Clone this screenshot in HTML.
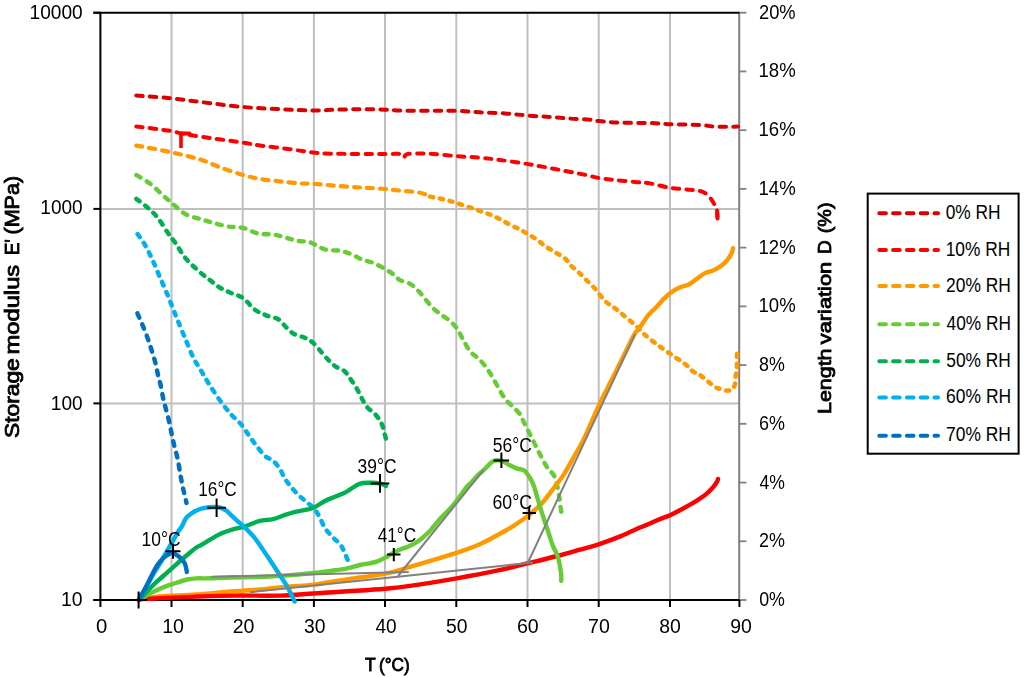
<!DOCTYPE html><html><head><meta charset="utf-8"><style>html,body{margin:0;padding:0;background:#fff;}</style></head><body><svg width="1024" height="677" viewBox="0 0 1024 677" style="display:block;font-family:'Liberation Sans', sans-serif">
<rect width="1024" height="677" fill="#fff"/>
<line x1="171.5" y1="12.7" x2="171.5" y2="600" stroke="#BFBFBF" stroke-width="2"/>
<line x1="242.7" y1="12.7" x2="242.7" y2="600" stroke="#BFBFBF" stroke-width="2"/>
<line x1="313.9" y1="12.7" x2="313.9" y2="600" stroke="#BFBFBF" stroke-width="2"/>
<line x1="385.0" y1="12.7" x2="385.0" y2="600" stroke="#BFBFBF" stroke-width="2"/>
<line x1="456.3" y1="12.7" x2="456.3" y2="600" stroke="#BFBFBF" stroke-width="2"/>
<line x1="527.5" y1="12.7" x2="527.5" y2="600" stroke="#BFBFBF" stroke-width="2"/>
<line x1="598.7" y1="12.7" x2="598.7" y2="600" stroke="#BFBFBF" stroke-width="2"/>
<line x1="670.0" y1="12.7" x2="670.0" y2="600" stroke="#BFBFBF" stroke-width="2"/>
<line x1="100.4" y1="208.9" x2="739.4" y2="208.9" stroke="#BFBFBF" stroke-width="2"/>
<line x1="100.4" y1="403.4" x2="739.4" y2="403.4" stroke="#BFBFBF" stroke-width="2"/>
<line x1="739.2" y1="11.7" x2="739.2" y2="600" stroke="#808080" stroke-width="2"/>
<line x1="739.4" y1="600.00" x2="746.4" y2="600.00" stroke="#808080" stroke-width="1.8"/>
<line x1="739.4" y1="541.27" x2="746.4" y2="541.27" stroke="#808080" stroke-width="1.8"/>
<line x1="739.4" y1="482.54" x2="746.4" y2="482.54" stroke="#808080" stroke-width="1.8"/>
<line x1="739.4" y1="423.81" x2="746.4" y2="423.81" stroke="#808080" stroke-width="1.8"/>
<line x1="739.4" y1="365.08" x2="746.4" y2="365.08" stroke="#808080" stroke-width="1.8"/>
<line x1="739.4" y1="306.35" x2="746.4" y2="306.35" stroke="#808080" stroke-width="1.8"/>
<line x1="739.4" y1="247.62" x2="746.4" y2="247.62" stroke="#808080" stroke-width="1.8"/>
<line x1="739.4" y1="188.89" x2="746.4" y2="188.89" stroke="#808080" stroke-width="1.8"/>
<line x1="739.4" y1="130.16" x2="746.4" y2="130.16" stroke="#808080" stroke-width="1.8"/>
<line x1="739.4" y1="71.43" x2="746.4" y2="71.43" stroke="#808080" stroke-width="1.8"/>
<line x1="739.4" y1="12.70" x2="746.4" y2="12.70" stroke="#808080" stroke-width="1.8"/>
<line x1="93.4" y1="12.7" x2="739.4" y2="12.7" stroke="#000" stroke-width="2"/>
<line x1="100.4" y1="12.7" x2="100.4" y2="601" stroke="#000" stroke-width="2"/>
<line x1="93.4" y1="600" x2="739.4" y2="600" stroke="#000" stroke-width="2"/>
<line x1="93.4" y1="12.7" x2="100.4" y2="12.7" stroke="#000" stroke-width="2"/>
<line x1="93.4" y1="208.9" x2="100.4" y2="208.9" stroke="#000" stroke-width="2"/>
<line x1="93.4" y1="403.4" x2="100.4" y2="403.4" stroke="#000" stroke-width="2"/>
<line x1="93.4" y1="600" x2="100.4" y2="600" stroke="#000" stroke-width="2"/>
<line x1="100.4" y1="600" x2="100.4" y2="607" stroke="#000" stroke-width="2"/>
<line x1="171.5" y1="600" x2="171.5" y2="607" stroke="#000" stroke-width="2"/>
<line x1="242.7" y1="600" x2="242.7" y2="607" stroke="#000" stroke-width="2"/>
<line x1="313.9" y1="600" x2="313.9" y2="607" stroke="#000" stroke-width="2"/>
<line x1="385.0" y1="600" x2="385.0" y2="607" stroke="#000" stroke-width="2"/>
<line x1="456.3" y1="600" x2="456.3" y2="607" stroke="#000" stroke-width="2"/>
<line x1="527.5" y1="600" x2="527.5" y2="607" stroke="#000" stroke-width="2"/>
<line x1="598.7" y1="600" x2="598.7" y2="607" stroke="#000" stroke-width="2"/>
<line x1="670.0" y1="600" x2="670.0" y2="607" stroke="#000" stroke-width="2"/>
<line x1="739.4" y1="600" x2="739.4" y2="607" stroke="#000" stroke-width="2"/>
<path d="M136.30,95.50C142.08,95.97 160.38,97.23 171.00,98.30C181.62,99.37 188.17,100.47 200.00,101.90C211.83,103.33 228.67,105.68 242.00,106.90C255.33,108.12 268.17,108.60 280.00,109.20C291.83,109.80 303.83,110.42 313.00,110.50C322.17,110.58 327.17,109.92 335.00,109.70C342.83,109.48 351.67,109.20 360.00,109.20C368.33,109.20 378.33,109.48 385.00,109.70C391.67,109.92 392.50,110.32 400.00,110.50C407.50,110.68 420.67,110.75 430.00,110.80C439.33,110.85 447.67,110.55 456.00,110.80C464.33,111.05 471.83,111.87 480.00,112.30C488.17,112.73 497.17,112.87 505.00,113.40C512.83,113.93 519.50,114.90 527.00,115.50C534.50,116.10 542.83,116.48 550.00,117.00C557.17,117.52 563.33,118.15 570.00,118.60C576.67,119.05 585.17,119.28 590.00,119.70C594.83,120.12 594.00,120.60 599.00,121.10C604.00,121.60 611.50,122.38 620.00,122.70C628.50,123.02 641.67,122.75 650.00,123.00C658.33,123.25 661.67,123.87 670.00,124.20C678.33,124.53 692.50,124.60 700.00,125.00C707.50,125.40 708.67,126.33 715.00,126.60C721.33,126.87 734.17,126.60 738.00,126.60" fill="none" stroke="#DC0000" stroke-width="4.0" stroke-dasharray="6.4 7.2" stroke-linecap="round" stroke-linejoin="round"/>
<path d="M136.30,126.40C142.08,127.17 163.55,129.82 171.00,131.00C178.45,132.18 176.17,132.57 181.00,133.50C185.83,134.43 189.83,135.10 200.00,136.60C210.17,138.10 232.00,141.02 242.00,142.50C252.00,143.98 252.00,144.38 260.00,145.50C268.00,146.62 281.17,148.03 290.00,149.20C298.83,150.37 305.50,151.74 313.00,152.50C320.50,153.26 323.00,153.50 335.00,153.75C347.00,154.00 374.17,153.96 385.00,154.00C395.83,154.04 396.83,153.47 400.00,154.00C403.17,154.53 402.67,157.20 404.00,157.20C405.33,157.20 403.67,154.57 408.00,154.00C412.33,153.43 422.00,153.40 430.00,153.75C438.00,154.10 447.67,155.44 456.00,156.10C464.33,156.76 472.67,157.05 480.00,157.70C487.33,158.35 492.17,158.97 500.00,160.00C507.83,161.03 517.83,162.40 527.00,163.90C536.17,165.40 545.33,167.18 555.00,169.00C564.67,170.82 577.67,173.30 585.00,174.80C592.33,176.30 594.00,177.13 599.00,178.00C604.00,178.87 609.00,179.35 615.00,180.00C621.00,180.65 629.17,181.33 635.00,181.90C640.83,182.47 644.17,182.42 650.00,183.40C655.83,184.38 663.33,186.75 670.00,187.80C676.67,188.85 685.00,189.17 690.00,189.70C695.00,190.23 697.50,190.45 700.00,191.00C702.50,191.55 703.33,191.92 705.00,193.00C706.67,194.08 708.50,195.71 710.00,197.50C711.50,199.29 712.83,201.67 714.00,203.75C715.17,205.83 716.42,207.46 717.00,210.00C717.58,212.54 717.42,217.50 717.50,219.00" fill="none" stroke="#FF0000" stroke-width="4.0" stroke-dasharray="6.4 7.2" stroke-linecap="round" stroke-linejoin="round"/>
<path d="M136.30,145.60C142.08,146.70 160.38,149.88 171.00,152.20C181.62,154.52 191.83,156.98 200.00,159.50C208.17,162.02 213.00,164.77 220.00,167.30C227.00,169.83 235.33,172.75 242.00,174.70C248.67,176.65 253.67,177.88 260.00,179.00C266.33,180.12 273.33,180.67 280.00,181.40C286.67,182.13 294.50,183.01 300.00,183.40C305.50,183.79 306.33,183.30 313.00,183.75C319.67,184.20 332.17,185.47 340.00,186.10C347.83,186.72 355.00,187.18 360.00,187.50C365.00,187.82 365.83,187.75 370.00,188.00C374.17,188.25 380.00,188.57 385.00,189.00C390.00,189.43 394.17,189.98 400.00,190.60C405.83,191.22 415.00,191.70 420.00,192.70C425.00,193.70 428.33,195.95 430.00,196.60" fill="none" stroke="#FF9900" stroke-width="4.2" stroke-dasharray="6.0 7.1" stroke-linecap="round" stroke-linejoin="round"/>
<path d="M430.00,196.60C432.50,197.12 440.67,198.67 445.00,199.70C449.33,200.73 451.83,201.50 456.00,202.80C460.17,204.10 466.00,206.13 470.00,207.50C474.00,208.87 476.67,209.83 480.00,211.00C483.33,212.17 486.67,213.13 490.00,214.50C493.33,215.87 496.67,217.50 500.00,219.20C503.33,220.90 506.67,222.98 510.00,224.70C513.33,226.42 517.00,227.92 520.00,229.50C523.00,231.08 525.17,232.50 528.00,234.20C530.83,235.90 534.17,237.73 537.00,239.70C539.83,241.67 542.00,243.92 545.00,246.00C548.00,248.08 551.67,250.13 555.00,252.20C558.33,254.27 562.50,256.32 565.00,258.40C567.50,260.48 567.83,262.48 570.00,264.70C572.17,266.92 575.50,269.36 578.00,271.70C580.50,274.04 582.17,275.93 585.00,278.75C587.83,281.57 591.67,284.89 595.00,288.60C598.33,292.31 601.67,297.72 605.00,301.00C608.33,304.28 611.67,305.72 615.00,308.30C618.33,310.88 621.50,313.58 625.00,316.50C628.50,319.42 632.83,322.87 636.00,325.80C639.17,328.73 640.50,331.00 644.00,334.10C647.50,337.20 652.67,341.13 657.00,344.40C661.33,347.67 665.33,350.43 670.00,353.70C674.67,356.97 681.17,361.05 685.00,364.00C688.83,366.95 690.62,369.65 693.00,371.40C695.38,373.15 696.87,372.87 699.30,374.50C701.73,376.13 705.02,379.13 707.60,381.20C710.18,383.27 712.73,385.62 714.80,386.90C716.87,388.18 718.10,388.30 720.00,388.90C721.90,389.50 724.30,390.32 726.20,390.50C728.10,390.68 730.20,390.35 731.40,390.00C732.60,389.65 732.80,389.43 733.40,388.40C734.00,387.37 734.65,385.60 735.00,383.80C735.35,382.00 735.25,379.67 735.50,377.60C735.75,375.53 736.25,373.48 736.50,371.40C736.75,369.32 736.92,367.52 737.00,365.10C737.08,362.68 736.90,359.65 737.00,356.90C737.10,354.15 737.50,349.98 737.60,348.60" fill="none" stroke="#FF9900" stroke-width="4.5" stroke-dasharray="3.2 6.8" stroke-linecap="round" stroke-linejoin="round"/>
<path d="M136.40,175.10C138.70,176.55 145.82,180.47 150.20,183.80C154.58,187.13 158.93,191.75 162.70,195.10C166.47,198.45 169.03,200.75 172.80,203.90C176.57,207.05 180.70,211.48 185.30,214.00C189.90,216.52 195.80,217.55 200.40,219.00C205.00,220.45 208.30,221.45 212.90,222.70C217.50,223.95 222.98,225.63 228.00,226.50C233.02,227.37 237.93,226.72 243.00,227.90C248.07,229.08 253.27,232.48 258.40,233.60C263.53,234.72 269.32,233.95 273.80,234.60C278.28,235.25 281.47,236.48 285.30,237.50C289.13,238.52 292.95,239.97 296.80,240.70C300.65,241.43 305.52,241.32 308.40,241.90C311.28,242.48 311.23,242.92 314.10,244.20C316.97,245.48 321.12,248.48 325.60,249.60C330.08,250.72 336.52,250.05 341.00,250.90C345.48,251.75 348.98,253.27 352.50,254.70C356.02,256.13 358.57,258.12 362.10,259.50C365.63,260.88 369.85,261.38 373.70,263.00C377.55,264.62 382.00,267.37 385.20,269.20C388.40,271.03 390.43,272.18 392.90,274.00C395.37,275.82 397.13,278.47 400.00,280.10C402.87,281.73 407.17,282.13 410.10,283.80C413.03,285.47 415.10,287.58 417.60,290.10C420.10,292.62 422.58,295.97 425.10,298.90C427.62,301.83 430.18,305.18 432.70,307.70C435.22,310.22 437.48,311.92 440.20,314.00C442.92,316.08 446.28,317.90 449.00,320.20C451.72,322.50 454.20,324.67 456.50,327.80C458.80,330.93 460.50,335.03 462.80,339.00C465.10,342.97 467.58,348.25 470.30,351.60C473.02,354.95 476.38,356.38 479.10,359.10C481.82,361.82 484.30,364.77 486.60,367.90C488.90,371.03 490.80,374.35 492.90,377.90C495.00,381.45 497.12,385.63 499.20,389.20C501.28,392.77 503.10,396.37 505.40,399.30C507.70,402.23 510.57,404.30 513.00,406.80C515.43,409.30 518.37,412.10 520.00,414.30C521.63,416.50 520.97,416.32 522.80,420.00C524.63,423.68 528.27,430.93 531.00,436.40C533.73,441.87 536.47,447.57 539.20,452.80C541.93,458.03 544.90,463.93 547.40,467.80C549.90,471.67 552.38,472.13 554.20,476.00C556.02,479.87 557.17,485.32 558.30,491.00C559.43,496.68 560.45,506.23 561.00,510.10C561.55,513.97 561.50,513.52 561.60,514.20" fill="none" stroke="#66CC33" stroke-width="4.4" stroke-dasharray="4.8 7.2" stroke-linecap="round" stroke-linejoin="round"/>
<path d="M136.40,198.90C138.28,200.37 144.15,204.57 147.70,207.70C151.25,210.83 154.35,213.52 157.70,217.70C161.05,221.88 164.87,228.62 167.80,232.80C170.73,236.98 172.38,238.62 175.30,242.80C178.22,246.98 181.53,253.30 185.30,257.90C189.07,262.50 193.72,266.63 197.90,270.40C202.08,274.17 206.63,277.57 210.40,280.50C214.17,283.43 216.98,285.88 220.50,288.00C224.02,290.12 227.75,291.53 231.50,293.20C235.25,294.87 239.15,295.28 243.00,298.00C246.85,300.72 250.75,306.62 254.60,309.50C258.45,312.38 262.15,313.67 266.10,315.30C270.05,316.93 274.90,317.25 278.30,319.30C281.70,321.35 283.92,325.18 286.50,327.60C289.08,330.02 290.70,332.08 293.80,333.80C296.90,335.52 301.83,336.35 305.10,337.90C308.37,339.45 310.63,340.68 313.40,343.10C316.17,345.52 319.12,349.48 321.70,352.40C324.28,355.32 326.50,358.20 328.90,360.60C331.30,363.00 333.52,365.07 336.10,366.80C338.68,368.53 341.98,368.93 344.40,371.00C346.82,373.07 348.53,376.28 350.60,379.20C352.67,382.12 355.07,385.57 356.80,388.50C358.53,391.43 359.28,393.70 361.00,396.80C362.72,399.90 364.70,404.17 367.10,407.10C369.50,410.03 372.98,411.63 375.40,414.40C377.82,417.17 380.05,420.43 381.60,423.70C383.15,426.97 383.93,431.25 384.70,434.00C385.47,436.75 385.95,439.17 386.20,440.20" fill="none" stroke="#00B050" stroke-width="4.5" stroke-dasharray="4.0 7.0" stroke-linecap="round" stroke-linejoin="round"/>
<path d="M137.60,234.00C138.87,235.88 142.68,240.90 145.20,245.30C147.72,249.70 150.20,254.97 152.70,260.40C155.20,265.83 157.68,272.05 160.20,277.90C162.72,283.75 165.70,290.47 167.80,295.50C169.90,300.53 171.13,303.92 172.80,308.10C174.47,312.28 175.63,315.30 177.80,320.60C179.97,325.90 183.13,333.58 185.80,339.90C188.47,346.22 191.13,353.18 193.80,358.50C196.47,363.82 199.15,367.37 201.80,371.80C204.45,376.23 206.60,380.23 209.70,385.10C212.80,389.97 216.85,396.13 220.40,401.00C223.95,405.87 227.47,410.32 231.00,414.30C234.53,418.28 238.62,421.37 241.60,424.90C244.58,428.43 246.58,432.25 248.90,435.50C251.22,438.75 252.92,441.08 255.50,444.40C258.08,447.72 261.45,452.63 264.40,455.40C267.35,458.17 270.63,458.78 273.20,461.00C275.77,463.22 277.95,465.93 279.80,468.70C281.65,471.47 282.63,474.83 284.30,477.60C285.97,480.37 287.58,482.53 289.80,485.30C292.02,488.07 294.83,491.43 297.60,494.20C300.37,496.97 303.63,499.50 306.40,501.90C309.17,504.30 311.98,506.02 314.20,508.60C316.42,511.18 317.87,514.08 319.70,517.40C321.53,520.72 322.98,525.18 325.20,528.50C327.42,531.82 330.42,534.53 333.00,537.30C335.58,540.07 338.85,542.70 340.70,545.10C342.55,547.50 342.88,549.12 344.10,551.70C345.32,554.28 347.35,559.12 348.00,560.60" fill="none" stroke="#00B0F0" stroke-width="4.5" stroke-dasharray="3.8 7.0" stroke-linecap="round" stroke-linejoin="round"/>
<path d="M137.40,313.30C138.17,315.07 140.35,319.92 142.00,323.90C143.65,327.88 145.75,332.98 147.30,337.20C148.85,341.42 149.97,344.98 151.30,349.20C152.63,353.42 154.20,358.30 155.30,362.50C156.40,366.70 157.02,370.63 157.90,374.40C158.78,378.17 159.72,381.10 160.60,385.10C161.48,389.10 162.32,394.42 163.20,398.40C164.08,402.38 164.88,405.02 165.90,409.00C166.92,412.98 168.28,417.87 169.30,422.30C170.32,426.73 171.10,431.40 172.00,435.60C172.90,439.80 173.73,443.52 174.70,447.50C175.67,451.48 176.83,454.85 177.80,459.50C178.77,464.15 179.63,470.65 180.50,475.40C181.37,480.15 182.00,483.42 183.00,488.00C184.00,492.58 185.92,500.42 186.50,502.90" fill="none" stroke="#0070C0" stroke-width="4.5" stroke-dasharray="4.8 7.3" stroke-linecap="round" stroke-linejoin="round"/>
<line x1="717.2" y1="213" x2="717.5" y2="218.5" stroke="#FF0000" stroke-width="4.0" stroke-linecap="round"/>
<line x1="181" y1="134" x2="181" y2="148" stroke="#FF0000" stroke-width="3.6"/>
<line x1="180" y1="133.5" x2="189.5" y2="133.5" stroke="#FF0000" stroke-width="3.8" stroke-linecap="round"/>
<path d="M139.00,600.00C140.83,599.70 146.72,598.78 150.00,598.20C153.28,597.62 151.03,597.12 158.70,596.50C166.37,595.88 184.95,595.25 196.00,594.50C207.05,593.75 214.33,592.83 225.00,592.00C235.67,591.17 249.17,590.42 260.00,589.50C270.83,588.58 281.08,587.32 290.00,586.50C298.92,585.68 303.77,585.83 313.50,584.60C323.23,583.37 336.43,580.92 348.40,579.10C360.37,577.28 375.03,575.73 385.30,573.70C395.57,571.67 398.12,570.37 410.00,566.90C421.88,563.43 444.88,556.70 456.60,552.90C468.32,549.10 471.95,547.92 480.30,544.10C488.65,540.28 500.98,533.17 506.70,530.00C512.42,526.83 511.00,527.50 514.60,525.10C518.20,522.70 523.75,519.23 528.30,515.60C532.85,511.97 537.35,508.32 541.90,503.30C546.45,498.28 551.95,490.28 555.60,485.50C559.25,480.72 560.62,479.60 563.80,474.60C566.98,469.60 571.43,461.28 574.70,455.50C577.97,449.72 580.85,444.90 583.40,439.90C585.95,434.90 587.42,431.25 590.00,425.50C592.58,419.75 595.35,412.88 598.90,405.40C602.45,397.92 607.17,388.87 611.30,380.60C615.43,372.33 619.92,363.38 623.70,355.80C627.48,348.22 631.25,339.92 634.00,335.10C636.75,330.28 637.85,330.20 640.20,326.90C642.55,323.60 645.42,318.58 648.10,315.30C650.78,312.02 653.85,309.77 656.30,307.20C658.75,304.63 660.57,302.20 662.80,299.90C665.03,297.60 667.00,295.43 669.70,293.40C672.40,291.37 675.82,289.18 679.00,287.70C682.18,286.22 685.82,285.98 688.80,284.50C691.78,283.02 694.20,280.70 696.90,278.80C699.60,276.90 702.30,274.47 705.00,273.10C707.70,271.73 710.38,271.82 713.10,270.60C715.82,269.38 718.85,267.68 721.30,265.80C723.75,263.92 726.05,261.47 727.80,259.30C729.55,257.13 730.93,254.65 731.80,252.80C732.67,250.95 732.80,248.97 733.00,248.20" fill="none" stroke="#FF9900" stroke-width="4.4" stroke-linecap="round" stroke-linejoin="round"/>
<path d="M146.00,599.00C150.00,598.78 161.67,598.10 170.00,597.70C178.33,597.30 185.17,596.95 196.00,596.60C206.83,596.25 221.00,595.77 235.00,595.60C249.00,595.43 266.92,595.95 280.00,595.60C293.08,595.25 302.17,594.22 313.50,593.50C324.83,592.78 336.08,592.10 348.00,591.30C359.92,590.50 374.67,589.60 385.00,588.70C395.33,587.80 398.07,587.63 410.00,585.90C421.93,584.17 441.95,580.88 456.60,578.30C471.25,575.72 486.13,572.88 497.90,570.40C509.67,567.92 516.95,565.88 527.20,563.40C537.45,560.92 550.60,557.78 559.40,555.50C568.20,553.22 573.47,551.57 580.00,549.70C586.53,547.83 591.77,546.57 598.60,544.30C605.43,542.03 614.10,538.88 621.00,536.10C627.90,533.32 635.35,529.62 640.00,527.60C644.65,525.58 645.95,525.27 648.90,524.00C651.85,522.73 654.17,521.47 657.70,520.00C661.23,518.53 666.40,516.82 670.10,515.20C673.80,513.58 676.80,511.93 679.90,510.30C683.00,508.67 685.75,507.10 688.70,505.40C691.65,503.70 694.65,502.02 697.60,500.10C700.55,498.18 703.75,496.12 706.40,493.90C709.05,491.68 711.72,488.87 713.50,486.80C715.28,484.73 716.35,482.82 717.10,481.50C717.85,480.18 717.85,479.33 718.00,478.90" fill="none" stroke="#FF0000" stroke-width="4.4" stroke-linecap="round" stroke-linejoin="round"/>
<path d="M139.00,600.00C139.63,599.62 140.47,599.03 142.80,597.70C145.13,596.37 149.40,593.80 153.00,592.00C156.60,590.20 160.60,588.40 164.40,586.90C168.20,585.40 172.02,584.23 175.80,583.00C179.58,581.77 183.73,580.27 187.10,579.50C190.47,578.73 192.18,578.60 196.00,578.40C199.82,578.20 204.33,578.45 210.00,578.30C215.67,578.15 221.67,577.72 230.00,577.50C238.33,577.28 251.67,577.27 260.00,577.00C268.33,576.73 271.08,576.57 280.00,575.90C288.92,575.23 304.38,573.93 313.50,573.00C322.62,572.07 329.45,571.00 334.70,570.30C339.95,569.60 340.80,569.68 345.00,568.80C349.20,567.92 355.73,565.92 359.90,565.00C364.07,564.08 367.08,563.90 370.00,563.30C372.92,562.70 374.93,562.30 377.40,561.40C379.87,560.50 382.33,559.22 384.80,557.90C387.27,556.58 389.73,554.85 392.20,553.50C394.67,552.15 397.13,550.87 399.60,549.80C402.07,548.73 404.55,548.12 407.00,547.10C409.45,546.08 411.85,545.13 414.30,543.70C416.75,542.27 419.23,540.48 421.70,538.50C424.17,536.52 427.32,533.55 429.10,531.80C430.88,530.05 430.62,530.12 432.40,528.00C434.18,525.88 437.35,521.82 439.80,519.10C442.25,516.38 444.65,514.28 447.10,511.70C449.55,509.12 452.27,506.30 454.50,503.60C456.73,500.90 458.60,498.13 460.50,495.50C462.40,492.87 464.02,490.07 465.90,487.80C467.78,485.53 469.83,483.97 471.80,481.90C473.77,479.83 475.72,477.37 477.70,475.40C479.68,473.43 481.72,471.98 483.70,470.10C485.68,468.22 488.03,465.58 489.60,464.10C491.17,462.62 491.70,461.83 493.10,461.20C494.50,460.57 496.35,460.25 498.00,460.30C499.65,460.35 501.13,460.72 503.00,461.50C504.87,462.28 506.82,463.82 509.20,465.00C511.58,466.18 514.80,467.68 517.30,468.60C519.80,469.52 522.15,469.05 524.20,470.50C526.25,471.95 528.02,474.80 529.60,477.30C531.18,479.80 532.33,481.85 533.70,485.50C535.07,489.15 536.43,494.65 537.80,499.20C539.17,503.75 540.30,507.80 541.90,512.80C543.50,517.80 545.58,523.73 547.40,529.20C549.22,534.67 551.08,541.07 552.80,545.60C554.52,550.13 556.33,551.85 557.70,556.40C559.07,560.95 560.42,568.80 561.00,572.90C561.58,577.00 561.17,579.65 561.20,581.00" fill="none" stroke="#66CC33" stroke-width="4.4" stroke-linecap="round" stroke-linejoin="round"/>
<path d="M139.00,600.00C141.33,597.53 148.77,589.37 153.00,585.20C157.23,581.03 160.60,578.40 164.40,575.00C168.20,571.60 172.02,568.13 175.80,564.80C179.58,561.47 183.73,557.85 187.10,555.00C190.47,552.15 193.68,549.35 196.00,547.70C198.32,546.05 198.45,546.57 201.00,545.10C203.55,543.63 207.85,540.87 211.30,538.90C214.75,536.93 218.25,534.85 221.70,533.30C225.15,531.75 228.55,530.63 232.00,529.60C235.45,528.57 239.40,527.95 242.40,527.10C245.40,526.25 247.08,525.55 250.00,524.50C252.92,523.45 256.03,521.68 259.90,520.80C263.77,519.92 269.13,520.13 273.20,519.20C277.27,518.27 280.62,516.42 284.30,515.20C287.98,513.98 291.62,512.82 295.30,511.90C298.98,510.98 303.25,510.45 306.40,509.70C309.55,508.95 311.25,508.77 314.20,507.40C317.15,506.03 320.97,503.15 324.10,501.50C327.23,499.85 329.67,498.90 333.00,497.50C336.33,496.10 341.27,494.43 344.10,493.10C346.93,491.77 347.43,491.05 350.00,489.50C352.57,487.95 356.18,484.92 359.50,483.80C362.82,482.68 366.50,482.87 369.90,482.80C373.30,482.73 377.22,482.87 379.90,483.40C382.58,483.93 384.98,485.57 386.00,486.00" fill="none" stroke="#00B050" stroke-width="4.4" stroke-linecap="round" stroke-linejoin="round"/>
<path d="M139.00,600.00C140.40,597.53 144.87,589.75 147.40,585.20C149.93,580.65 152.12,576.30 154.20,572.70C156.28,569.10 158.20,566.43 159.90,563.60C161.60,560.77 162.88,558.35 164.40,555.70C165.92,553.05 167.48,550.35 169.00,547.70C170.52,545.05 172.00,542.45 173.50,539.80C175.00,537.15 176.58,534.07 178.00,531.80C179.42,529.53 180.68,528.43 182.00,526.20C183.32,523.97 184.28,520.57 185.90,518.40C187.52,516.23 189.75,514.62 191.70,513.20C193.65,511.78 195.65,510.73 197.60,509.90C199.55,509.07 201.45,508.63 203.40,508.20C205.35,507.77 207.35,507.50 209.30,507.30C211.25,507.10 213.15,506.90 215.10,507.00C217.05,507.10 219.03,507.22 221.00,507.90C222.97,508.58 224.95,509.63 226.90,511.10C228.85,512.57 230.75,514.88 232.70,516.70C234.65,518.52 236.73,520.32 238.60,522.00C240.47,523.68 242.00,525.02 243.90,526.80C245.80,528.58 248.00,530.58 250.00,532.70C252.00,534.82 252.92,535.45 255.90,539.50C258.88,543.55 264.25,551.58 267.90,557.00C271.55,562.42 274.48,566.90 277.80,572.00C281.12,577.10 285.00,582.68 287.80,587.60C290.60,592.52 293.47,599.18 294.60,601.50" fill="none" stroke="#00B0F0" stroke-width="4.4" stroke-linecap="round" stroke-linejoin="round"/>
<path d="M138.50,600.00C139.60,598.10 142.87,592.77 145.10,588.60C147.33,584.43 149.82,578.97 151.90,575.00C153.98,571.03 155.70,567.63 157.60,564.80C159.50,561.97 161.40,559.80 163.30,558.00C165.20,556.20 167.48,554.80 169.00,554.00C170.52,553.20 171.08,553.02 172.40,553.20C173.72,553.38 175.38,554.12 176.90,555.10C178.42,556.08 180.17,557.68 181.50,559.10C182.83,560.52 184.05,561.70 184.90,563.60C185.75,565.50 186.28,569.10 186.60,570.50C186.92,571.90 186.77,571.75 186.80,572.00" fill="none" stroke="#0070C0" stroke-width="4.4" stroke-linecap="round" stroke-linejoin="round"/>
<polyline points="211.5,576.8 408.8,572.1" fill="none" stroke="#808080" stroke-width="2"/>
<polyline points="249.6,592.3 533.0,562.5" fill="none" stroke="#808080" stroke-width="2"/>
<polyline points="398.0,576.0 483.7,469.8" fill="none" stroke="#808080" stroke-width="2"/>
<polyline points="527.5,563.5 635.1,334.1" fill="none" stroke="#808080" stroke-width="2"/>
<path d="M129.9,600.0H147.2M138.6,591.4V608.6" stroke="#000" stroke-width="2" fill="none"/>
<path d="M165.5,551.2H180.5M173.0,543.7V558.7" stroke="#000" stroke-width="2" fill="none"/>
<path d="M207.3,507.8H225.9M216.6,498.5V517.1" stroke="#000" stroke-width="2" fill="none"/>
<path d="M370.7,483.4H389.3M380.0,474.1V492.7" stroke="#000" stroke-width="2" fill="none"/>
<path d="M387.1,554.6H400.5M393.8,547.9V561.3" stroke="#000" stroke-width="2" fill="none"/>
<path d="M493.6,460.4H509.1M501.4,452.6V468.1" stroke="#000" stroke-width="2" fill="none"/>
<path d="M522.6,513.1H535.9M529.2,506.5V519.8" stroke="#000" stroke-width="2" fill="none"/>
<g opacity="0.999">
<text x="141.57" y="546.10" font-size="19.40" font-weight="normal" textLength="38.99" lengthAdjust="spacingAndGlyphs">10&#176;C</text>
<text x="198.29" y="495.60" font-size="19.40" font-weight="normal" textLength="38.36" lengthAdjust="spacingAndGlyphs">16&#176;C</text>
<text x="357.54" y="472.80" font-size="19.40" font-weight="normal" textLength="38.93" lengthAdjust="spacingAndGlyphs">39&#176;C</text>
<text x="377.71" y="542.20" font-size="19.40" font-weight="normal" textLength="38.45" lengthAdjust="spacingAndGlyphs">41&#176;C</text>
<text x="492.70" y="451.60" font-size="19.40" font-weight="normal" textLength="39.07" lengthAdjust="spacingAndGlyphs">56&#176;C</text>
<text x="492.50" y="508.50" font-size="19.40" font-weight="normal" textLength="39.47" lengthAdjust="spacingAndGlyphs">60&#176;C</text>
<text x="29.55" y="18.60" font-size="19.40" font-weight="normal" textLength="53.10" lengthAdjust="spacingAndGlyphs">10000</text>
<text x="40.30" y="214.30" font-size="19.40" font-weight="normal" textLength="42.34" lengthAdjust="spacingAndGlyphs">1000</text>
<text x="50.85" y="410.00" font-size="19.40" font-weight="normal" textLength="31.80" lengthAdjust="spacingAndGlyphs">100</text>
<text x="61.02" y="605.90" font-size="19.40" font-weight="normal" textLength="21.64" lengthAdjust="spacingAndGlyphs">10</text>
<text x="759.20" y="606.00" font-size="19.40" font-weight="normal" textLength="25.73" lengthAdjust="spacingAndGlyphs">0%</text>
<text x="759.00" y="547.27" font-size="19.40" font-weight="normal" textLength="25.94" lengthAdjust="spacingAndGlyphs">2%</text>
<text x="759.50" y="488.54" font-size="19.40" font-weight="normal" textLength="25.43" lengthAdjust="spacingAndGlyphs">4%</text>
<text x="758.99" y="429.81" font-size="19.40" font-weight="normal" textLength="25.95" lengthAdjust="spacingAndGlyphs">6%</text>
<text x="759.12" y="371.08" font-size="19.40" font-weight="normal" textLength="25.81" lengthAdjust="spacingAndGlyphs">8%</text>
<text x="758.49" y="312.35" font-size="19.40" font-weight="normal" textLength="37.18" lengthAdjust="spacingAndGlyphs">10%</text>
<text x="758.49" y="253.62" font-size="19.40" font-weight="normal" textLength="37.18" lengthAdjust="spacingAndGlyphs">12%</text>
<text x="758.49" y="194.89" font-size="19.40" font-weight="normal" textLength="37.18" lengthAdjust="spacingAndGlyphs">14%</text>
<text x="758.49" y="136.16" font-size="19.40" font-weight="normal" textLength="37.18" lengthAdjust="spacingAndGlyphs">16%</text>
<text x="758.49" y="77.43" font-size="19.40" font-weight="normal" textLength="37.18" lengthAdjust="spacingAndGlyphs">18%</text>
<text x="758.98" y="18.70" font-size="19.40" font-weight="normal" textLength="36.67" lengthAdjust="spacingAndGlyphs">20%</text>
<text x="95.91" y="633.00" font-size="19.40" font-weight="normal" textLength="11.29" lengthAdjust="spacingAndGlyphs">0</text>
<text x="162.21" y="633.00" font-size="19.40" font-weight="normal" textLength="21.75" lengthAdjust="spacingAndGlyphs">10</text>
<text x="232.74" y="633.00" font-size="19.40" font-weight="normal" textLength="21.75" lengthAdjust="spacingAndGlyphs">20</text>
<text x="304.04" y="633.00" font-size="19.40" font-weight="normal" textLength="21.49" lengthAdjust="spacingAndGlyphs">30</text>
<text x="375.40" y="633.00" font-size="19.40" font-weight="normal" textLength="21.18" lengthAdjust="spacingAndGlyphs">40</text>
<text x="446.12" y="633.00" font-size="19.40" font-weight="normal" textLength="21.53" lengthAdjust="spacingAndGlyphs">50</text>
<text x="516.97" y="633.00" font-size="19.40" font-weight="normal" textLength="21.76" lengthAdjust="spacingAndGlyphs">60</text>
<text x="588.02" y="633.00" font-size="19.40" font-weight="normal" textLength="21.77" lengthAdjust="spacingAndGlyphs">70</text>
<text x="659.24" y="633.00" font-size="19.40" font-weight="normal" textLength="21.60" lengthAdjust="spacingAndGlyphs">80</text>
<text x="730.23" y="633.00" font-size="19.40" font-weight="normal" textLength="21.67" lengthAdjust="spacingAndGlyphs">90</text>
<text x="365.11" y="671.00" font-size="18.80" font-weight="normal" textLength="10.70" lengthAdjust="spacingAndGlyphs" stroke="#000" stroke-width="0.85">T</text>
<text x="378.93" y="671.00" font-size="18.80" font-weight="normal" textLength="30.84" lengthAdjust="spacingAndGlyphs" stroke="#000" stroke-width="0.85">(&#176;C)</text>
<text transform="translate(18.50,438.04) rotate(-90)" x="0" y="0" font-size="20.10" font-weight="normal" textLength="79.85" lengthAdjust="spacingAndGlyphs" stroke="#000" stroke-width="0.85">Storage</text>
<text transform="translate(18.50,354.58) rotate(-90)" x="0" y="0" font-size="20.10" font-weight="normal" textLength="89.84" lengthAdjust="spacingAndGlyphs" stroke="#000" stroke-width="0.85">modulus</text>
<text transform="translate(18.50,255.01) rotate(-90)" x="0" y="0" font-size="20.10" font-weight="normal" textLength="15.84" lengthAdjust="spacingAndGlyphs" stroke="#000" stroke-width="0.85">E'</text>
<text transform="translate(18.50,234.54) rotate(-90)" x="0" y="0" font-size="20.10" font-weight="normal" textLength="58.67" lengthAdjust="spacingAndGlyphs" stroke="#000" stroke-width="0.85">(MPa)</text>
<text transform="translate(830.50,413.96) rotate(-90)" x="0" y="0" font-size="18.90" font-weight="normal" textLength="65.44" lengthAdjust="spacingAndGlyphs" stroke="#000" stroke-width="0.85">Length</text>
<text transform="translate(830.50,344.17) rotate(-90)" x="0" y="0" font-size="18.90" font-weight="normal" textLength="82.29" lengthAdjust="spacingAndGlyphs" stroke="#000" stroke-width="0.85">variation</text>
<text transform="translate(830.50,253.97) rotate(-90)" x="0" y="0" font-size="18.90" font-weight="normal" textLength="13.78" lengthAdjust="spacingAndGlyphs" stroke="#000" stroke-width="0.85">D</text>
<text transform="translate(830.50,233.33) rotate(-90)" x="0" y="0" font-size="18.90" font-weight="normal" textLength="30.86" lengthAdjust="spacingAndGlyphs" stroke="#000" stroke-width="0.85">(%)</text>
<rect x="867.7" y="193.6" width="150.9" height="260.1" fill="#fff" stroke="#000" stroke-width="2"/>
<line x1="879.3" y1="213.3" x2="938" y2="213.3" stroke="#DC0000" stroke-width="4.0" stroke-dasharray="6.6 7.2" stroke-linecap="round"/>
<text x="945.72" y="218.80" font-size="19.40" font-weight="normal" textLength="54.89" lengthAdjust="spacingAndGlyphs">0% RH</text>
<line x1="879.3" y1="250.0" x2="938" y2="250.0" stroke="#FF0000" stroke-width="4.0" stroke-dasharray="6.6 7.2" stroke-linecap="round"/>
<text x="945.68" y="255.50" font-size="19.40" font-weight="normal" textLength="64.53" lengthAdjust="spacingAndGlyphs">10% RH</text>
<line x1="879.3" y1="286.0" x2="938" y2="286.0" stroke="#FF9900" stroke-width="4.0" stroke-dasharray="6.6 7.2" stroke-linecap="round"/>
<text x="946.12" y="291.50" font-size="19.40" font-weight="normal" textLength="64.79" lengthAdjust="spacingAndGlyphs">20% RH</text>
<line x1="879.3" y1="324.3" x2="938" y2="324.3" stroke="#66CC33" stroke-width="4.0" stroke-dasharray="6.6 7.2" stroke-linecap="round"/>
<text x="946.60" y="329.80" font-size="19.40" font-weight="normal" textLength="64.30" lengthAdjust="spacingAndGlyphs">40% RH</text>
<line x1="879.3" y1="361.2" x2="938" y2="361.2" stroke="#00B050" stroke-width="4.0" stroke-dasharray="6.6 7.2" stroke-linecap="round"/>
<text x="946.31" y="366.70" font-size="19.40" font-weight="normal" textLength="64.61" lengthAdjust="spacingAndGlyphs">50% RH</text>
<line x1="879.3" y1="397.6" x2="938" y2="397.6" stroke="#00B0F0" stroke-width="4.0" stroke-dasharray="6.6 7.2" stroke-linecap="round"/>
<text x="946.11" y="403.10" font-size="19.40" font-weight="normal" textLength="65.01" lengthAdjust="spacingAndGlyphs">60% RH</text>
<line x1="879.3" y1="435.7" x2="938" y2="435.7" stroke="#0070C0" stroke-width="4.0" stroke-dasharray="6.6 7.2" stroke-linecap="round"/>
<text x="946.11" y="441.20" font-size="19.40" font-weight="normal" textLength="64.81" lengthAdjust="spacingAndGlyphs">70% RH</text>
</g>
</svg></body></html>
